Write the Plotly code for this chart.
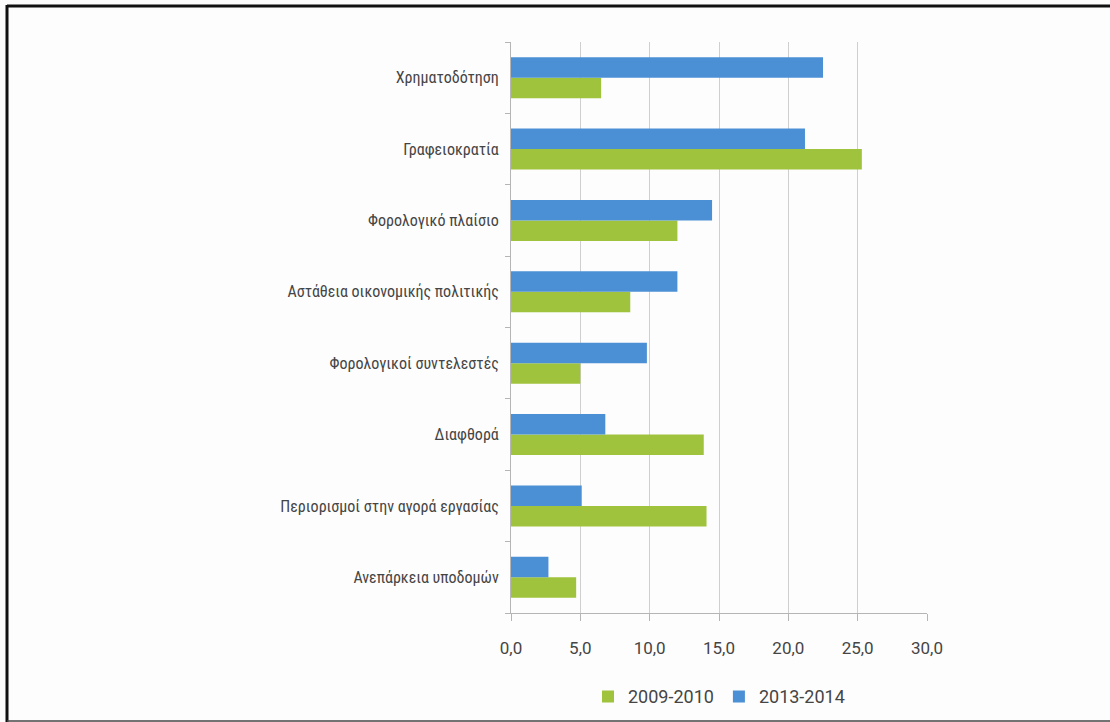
import plotly.graph_objects as go

# Obstacles to doing business, share of responses (%), top to bottom
categories = [
    "Χρηματοδότηση",
    "Γραφειοκρατία",
    "Φορολογικό πλαίσιο",
    "Αστάθεια οικονομικής πολιτικής",
    "Φορολογικοί συντελεστές",
    "Διαφθορά",
    "Περιορισμοί στην αγορά εργασίας",
    "Ανεπάρκεια υποδομών",
]
values_2009_2010 = [6.5, 25.3, 12.0, 8.6, 5.0, 13.9, 14.1, 4.7]
values_2013_2014 = [22.5, 21.2, 14.5, 12.0, 9.8, 6.8, 5.1, 2.7]
x_ticks = [0, 5, 10, 15, 20, 25, 30]

GREEN = "#9fc33c"
BLUE = "#4b8fd5"
TEXT = "#454545"
LABEL_FONT = "'Roboto Condensed', Roboto, sans-serif"
NUM_FONT = "Roboto, sans-serif"

# Plotly stacks categories bottom-up, so feed the lists reversed
cats = categories[::-1]

fig = go.Figure()
fig.add_trace(go.Bar(
    name="2009-2010", y=cats, x=values_2009_2010[::-1], orientation="h",
    marker=dict(color=GREEN, line=dict(width=0)),
))
fig.add_trace(go.Bar(
    name="2013-2014", y=cats, x=values_2013_2014[::-1], orientation="h",
    marker=dict(color=BLUE, line=dict(width=0)),
))

W, H = 1110, 722
L, R, T, B = 511, 183, 42, 109
pw, ph = W - L - R, H - T - B


def px_x(p):
    return (p - L) / pw


def px_y(p):
    return (H - B - p) / ph


# Thin dark frame on the left, top and bottom edges of the page
frame = dict(type="line", xref="paper", yref="paper",
             line=dict(color="#111111", width=3), layer="above")
shapes = [
    dict(frame, x0=px_x(7), x1=px_x(7), y0=px_y(5), y1=px_y(722)),
    dict(frame, x0=px_x(7), x1=px_x(1110), y0=px_y(6), y1=px_y(6)),
    dict(frame, x0=px_x(7), x1=px_x(1110), y0=px_y(721), y1=px_y(721),
         line=dict(color="#444444", width=1.5)),
]

fig.update_layout(
    width=W, height=H,
    margin=dict(l=L, r=R, t=T, b=B, pad=0),
    autosize=False,
    paper_bgcolor="#fdfdfd",
    plot_bgcolor="#fdfdfd",
    barmode="group",
    bargap=0.425,
    bargroupgap=0,
    separators=",.",
    font=dict(family=LABEL_FONT, color=TEXT, size=16),
    showlegend=True,
    legend=dict(
        orientation="h", x=0.5, xanchor="center",
        yref="container", y=0.035, yanchor="middle",
        font=dict(family=NUM_FONT, size=18, color=TEXT),
        itemwidth=30, traceorder="normal", bgcolor="rgba(0,0,0,0)",
    ),
    shapes=shapes,
    xaxis=dict(
        range=[0, 30], tickvals=x_ticks, tickformat=".1f",
        showgrid=True, gridcolor="#cfcfcf", gridwidth=1,
        showline=True, linecolor="#b5b5b5", linewidth=1,
        ticks="outside", ticklen=7, tickcolor="#b5b5b5",
        tickfont=dict(family=NUM_FONT, size=17, color=TEXT),
        ticklabelstandoff=13, zeroline=False, fixedrange=True,
    ),
    yaxis=dict(
        type="category",
        showgrid=False, showline=True, linecolor="#b5b5b5", linewidth=1,
        ticks="outside", ticklen=5, tickcolor="#b5b5b5", tickson="boundaries",
        tickfont=dict(family=LABEL_FONT, size=16, color=TEXT),
        ticklabelstandoff=8, zeroline=False, fixedrange=True,
    ),
)

fig.write_html("out.html", config={"displayModeBar": False})
